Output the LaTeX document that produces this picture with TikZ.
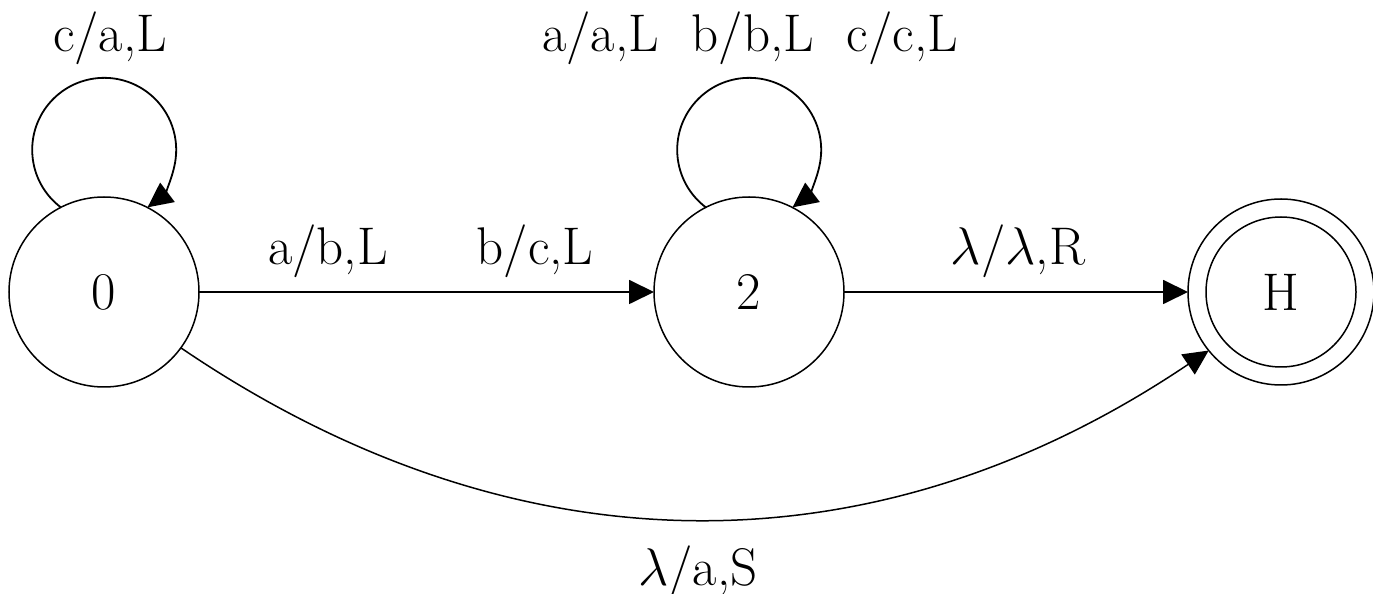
\documentclass[tikz,border=0pt]{standalone}
\usepackage{fix-cm}
\usetikzlibrary{arrows.meta}
\begin{document}
\begin{tikzpicture}[x=1pt,y=1pt,
  state/.style={circle,draw,line width=1.5pt,minimum size=190pt,inner sep=0pt,outer sep=0pt,font=\fontsize{53}{60}\selectfont},
  lbl/.style={anchor=base,inner sep=0pt,font=\fontsize{53}{60}\selectfont},
  arr/.style={line width=1.8pt,-{Triangle[length=25pt,width=24pt]}}]
\useasboundingbox (0,0) rectangle (1373,594);
\node[state] (s0) at (104,302) {0};
\node[state] (s2) at (749,302) {2};
\node[state,minimum size=186pt] (H) at (1281,302) {H};
\draw[line width=1.5pt] (H.center) circle[radius=75];
% loops
\draw[arr] (s0.117) arc[start angle=233,end angle=-53,radius=72];
\draw[arr] (s2.117) arc[start angle=233,end angle=-53,radius=72];
% edges
\draw[arr] (s0.east) -- (s2.west);
\draw[arr] (s2.east) -- (H.west);
\draw[arr,line width=1.5pt] (s0.-36) .. controls (509,23) and (868,14) .. (H.219);
% labels
\node[lbl] (l0) at (110,542) {c/a,L};
\node[lbl] (l2) at (750,542) {a/a,L\hspace{0.62em}b/b,L\hspace{0.62em}c/c,L};
\node[lbl] (l02a) at (328,329) {a/b,L};
\node[lbl] (l02b) at (535,329) {b/c,L};
\node[lbl] (l2H) at (1018,329) {$\lambda$/$\lambda$,R};
\node[lbl] (l0H) at (698,8) {$\lambda$/a,S};
\end{tikzpicture}
\end{document}
